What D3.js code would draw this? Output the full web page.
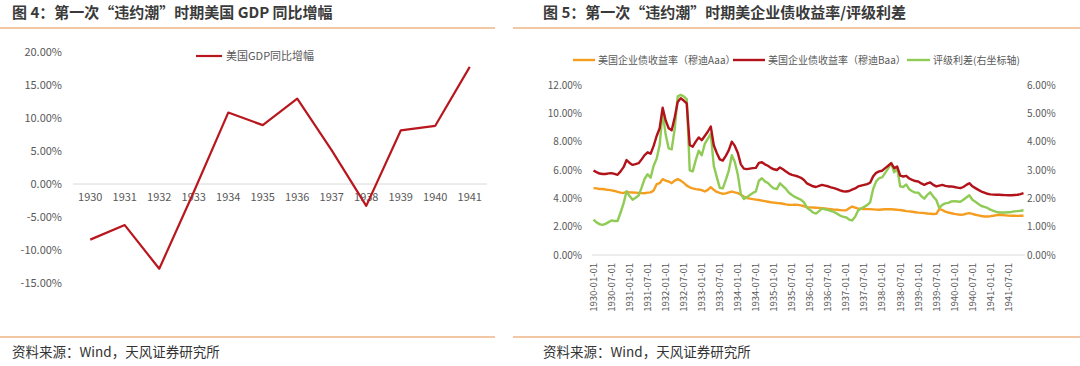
<!DOCTYPE html>
<meta charset="utf-8">
<head>
	<script src="https://cdn.jsdelivr.net/npm/d3@7"></script>
	<style>
		body {
			margin: 0;
			background: #fff;
			font-family: "Noto Sans CJK SC", "Noto Sans", sans-serif;
		}
		.title {
			font-size: 15px;
			font-weight: bold;
			fill: #3a3a3a;
		}
		.source {
			font-size: 13.5px;
			fill: #333;
		}
		.axis path,
		.axis line {
			display: none;
		}
		.axis text {
			fill: #595959;
			font-family: "Noto Sans CJK SC", sans-serif;
		}
		.legend text {
			fill: #595959;
		}
	</style>
</head>

<body>
	<div id="chart"></div>
</body>

<script type="text/javascript">

	// ---- figure 4 data
	var gdpYears = ["1930", "1931", "1932", "1933", "1934", "1935", "1936", "1937", "1938", "1939", "1940", "1941"];
	var gdpGrowth = [-8.4, -6.2, -12.8, -1.2, 10.8, 8.9, 12.9, 5.1, -3.3, 8.1, 8.8, 17.7];
	var gdpTicks = [-15, -10, -5, 0, 5, 10, 15, 20];
	var gdpName = "美国GDP同比增幅";

	// ---- figure 5 data, monthly 1930-01 .. 1941-12
	var aaa = [
		4.72, 4.70, 4.66, 4.66, 4.62, 4.60, 4.56, 4.52, 4.46, 4.40, 4.38, 4.45,
		4.42, 4.41, 4.40, 4.38, 4.37, 4.36, 4.40, 4.42, 4.55, 5.00, 5.07, 5.35,
		5.25, 5.19, 5.07, 5.25, 5.35, 5.25, 5.10, 4.90, 4.78, 4.70, 4.65, 4.62,
		4.58, 4.48, 4.60, 4.79, 4.60, 4.45, 4.38, 4.32, 4.35, 4.42, 4.48, 4.42,
		4.37, 4.25, 4.12, 4.02, 3.98, 3.94, 3.91, 3.88, 3.84, 3.80, 3.76, 3.72,
		3.70, 3.67, 3.65, 3.62, 3.57, 3.55, 3.54, 3.55, 3.54, 3.50, 3.44, 3.38,
		3.36, 3.35, 3.34, 3.33, 3.31, 3.29, 3.26, 3.23, 3.20, 3.19, 3.17, 3.15,
		3.15, 3.30, 3.42, 3.35, 3.27, 3.26, 3.25, 3.24, 3.24, 3.22, 3.20, 3.19,
		3.21, 3.23, 3.24, 3.23, 3.21, 3.19, 3.18, 3.14, 3.10, 3.08, 3.05, 3.02,
		2.99, 2.97, 2.96, 2.93, 2.91, 2.89, 2.90, 3.24, 3.18, 3.06, 3.00, 2.95,
		2.90, 2.87, 2.84, 2.85, 2.92, 2.96, 2.90, 2.84, 2.80, 2.75, 2.72, 2.72,
		2.74, 2.77, 2.82, 2.84, 2.82, 2.80, 2.78, 2.77, 2.77, 2.76, 2.77, 2.77
	];
	var baa = [
		5.97, 5.85, 5.75, 5.72, 5.72, 5.76, 5.78, 5.72, 5.66, 5.90, 6.20, 6.70,
		6.50, 6.36, 6.42, 6.48, 6.75, 7.05, 7.25, 7.15, 7.70, 8.40, 8.95, 10.40,
		9.50, 8.95, 8.80, 9.70, 10.80, 11.06, 10.90, 10.70, 7.77, 7.65, 8.00, 8.30,
		8.10, 8.40, 8.70, 9.07, 7.75, 7.20, 6.75, 6.67, 7.00, 7.40, 8.00, 7.70,
		7.20, 6.40, 6.10, 6.06, 6.10, 6.13, 6.15, 6.50, 6.55, 6.40, 6.30, 6.15,
		6.05, 6.00, 6.18, 6.05, 5.90, 5.75, 5.66, 5.60, 5.54, 5.45, 5.30, 5.05,
		4.95, 4.85, 4.80, 4.88, 4.95, 4.90, 4.85, 4.78, 4.72, 4.65, 4.56, 4.50,
		4.48, 4.52, 4.62, 4.70, 4.84, 4.90, 4.95, 5.00, 5.10, 5.55, 5.80, 5.90,
		5.95, 6.13, 6.30, 6.48, 6.13, 6.24, 5.60, 5.54, 5.59, 5.40, 5.30, 5.22,
		5.19, 5.05, 4.95, 5.05, 5.12, 4.95, 4.84, 4.90, 4.95, 4.88, 4.84, 4.84,
		4.80, 4.76, 4.72, 4.80, 4.95, 5.07, 4.85, 4.72, 4.60, 4.48, 4.40, 4.32,
		4.28, 4.26, 4.25, 4.25, 4.24, 4.23, 4.22, 4.22, 4.24, 4.25, 4.30, 4.37
	];
	var spread = [
		1.25, 1.15, 1.09, 1.06, 1.10, 1.16, 1.22, 1.20, 1.20, 1.50, 1.82, 2.25,
		2.08, 1.95, 2.02, 2.10, 2.38, 2.69, 2.85, 2.73, 3.15, 3.40, 3.88, 5.05,
		4.25, 3.76, 3.73, 4.45, 5.60, 5.65, 5.60, 5.50, 2.99, 2.95, 3.35, 3.68,
		3.52, 3.92, 4.10, 4.28, 3.15, 2.75, 2.37, 2.35, 2.65, 2.98, 3.52, 3.28,
		2.83, 2.15, 1.98, 2.04, 2.12, 2.19, 2.24, 2.62, 2.71, 2.60, 2.54, 2.43,
		2.35, 2.33, 2.53, 2.43, 2.33, 2.20, 2.12, 2.05, 2.00, 1.95, 1.86, 1.67,
		1.59, 1.50, 1.46, 1.55, 1.64, 1.61, 1.59, 1.55, 1.52, 1.46, 1.39, 1.35,
		1.33, 1.25, 1.22, 1.35, 1.57, 1.64, 1.70, 1.76, 1.86, 2.33, 2.60, 2.71,
		2.74, 2.90, 3.06, 3.25, 2.92, 3.05, 2.42, 2.40, 2.49, 2.32, 2.25, 2.20,
		2.20, 2.08, 1.99, 2.12, 2.21, 2.06, 1.94, 1.66, 1.77, 1.82, 1.84, 1.89,
		1.90, 1.89, 1.88, 1.95, 2.03, 2.11, 1.95, 1.88, 1.80, 1.73, 1.70, 1.66,
		1.60, 1.56, 1.52, 1.50, 1.50, 1.50, 1.51, 1.52, 1.54, 1.55, 1.56, 1.58
	];
	var yieldTicks = [0, 2, 4, 6, 8, 10, 12];
	var spreadTicks = [0, 1, 2, 3, 4, 5, 6];
	var seriesNames = ["美国企业债收益率（穆迪Aaa）", "美国企业债收益率（穆迪Baa）", "评级利差(右坐标轴)"];

	var titles = ["图 4：第一次“违约潮”时期美国 GDP 同比增幅", "图 5：第一次“违约潮”时期美企业债收益率/评级利差"];
	var sourceText = "资料来源：Wind，天风证券研究所";

	var fmt = function(d) { return d.toFixed(2) + "%"; };

	var svg = d3.select("#chart").append("svg")
		.attr("width", 1080)
		.attr("height", 366);

	// ---- frame: titles, rules, sources
	[{x: 12, x0: 0, x1: 495}, {x: 543, x0: 513, x1: 1080}].forEach(function(p, i) {
		svg.append("text")
			.attr("class", "title")
			.attr("x", p.x)
			.attr("y", 18)
			.text(titles[i]);
		svg.append("line")
			.attr("x1", p.x0).attr("x2", p.x1)
			.attr("y1", 28).attr("y2", 28)
			.style("stroke", "#f1c8a3")
			.style("stroke-width", 2);
		svg.append("line")
			.attr("x1", p.x0).attr("x2", p.x1)
			.attr("y1", 337).attr("y2", 337)
			.style("stroke", "#f1c8a3")
			.style("stroke-width", 2);
		svg.append("text")
			.attr("class", "source")
			.attr("x", p.x)
			.attr("y", 357)
			.text(sourceText);
	});

	// ---- figure 4
	var x4 = d3.scaleBand()
		.domain(gdpYears)
		.range([73, 487]);

	var y4 = d3.scaleLinear()
		.domain([-15, 20])
		.range([283.3, 51.7]);

	var yAxis4 = svg.append("g")
		.attr("class", "axis")
		.attr("transform", "translate(73,0)")
		.call(d3.axisLeft(y4).tickValues(gdpTicks).tickSize(0).tickPadding(11).tickFormat(fmt));
	yAxis4.selectAll("text").style("font-size", "11px");

	svg.append("line")
		.attr("x1", 73).attr("x2", 487)
		.attr("y1", y4(0)).attr("y2", y4(0))
		.style("stroke", "#d9d9d9");

	var xAxis4 = svg.append("g")
		.attr("class", "axis")
		.attr("transform", "translate(0," + y4(0) + ")")
		.call(d3.axisBottom(x4).tickSize(0).tickPadding(9));
	xAxis4.selectAll("text").style("font-size", "11px");

	var line4 = d3.line()
		.x(function(d, i) { return x4(gdpYears[i]) + x4.bandwidth() / 2; })
		.y(function(d) { return y4(d); });

	svg.append("path")
		.datum(gdpGrowth)
		.attr("d", line4)
		.style("fill", "none")
		.style("stroke", "#b8171e")
		.style("stroke-width", 2.2)
		.style("stroke-linejoin", "round");

	var legend4 = svg.append("g").attr("class", "legend");
	legend4.append("line")
		.attr("x1", 196).attr("x2", 222)
		.attr("y1", 56).attr("y2", 56)
		.style("stroke", "#b8171e")
		.style("stroke-width", 2.2);
	legend4.append("text")
		.attr("x", 226)
		.attr("y", 56)
		.attr("dy", ".35em")
		.style("font-size", "11px")
		.text(gdpName);

	// ---- figure 5
	var months = d3.timeMonth.range(new Date(1930, 0, 1), new Date(1942, 0, 1));
	var monthLabel = d3.timeFormat("%Y-%m-%d");
	var monthKeys = months.map(monthLabel);

	var x5 = d3.scaleBand()
		.domain(monthKeys)
		.range([592, 1025]);

	var y5 = d3.scaleLinear()
		.domain([0, 12])
		.range([255, 85]);

	var y5r = d3.scaleLinear()
		.domain([0, 6])
		.range([255, 85]);

	var yAxis5 = svg.append("g")
		.attr("class", "axis")
		.attr("transform", "translate(592,0)")
		.call(d3.axisLeft(y5).tickValues(yieldTicks).tickSize(0).tickPadding(10).tickFormat(fmt));
	yAxis5.selectAll("text").style("font-size", "10px");

	var yAxis5r = svg.append("g")
		.attr("class", "axis")
		.attr("transform", "translate(1025,0)")
		.call(d3.axisRight(y5r).tickValues(spreadTicks).tickSize(0).tickPadding(2).tickFormat(fmt));
	yAxis5r.selectAll("text").style("font-size", "10px");

	svg.append("line")
		.attr("x1", 592).attr("x2", 1025)
		.attr("y1", y5(0)).attr("y2", y5(0))
		.style("stroke", "#d9d9d9");

	var xAxis5 = svg.append("g")
		.attr("class", "axis")
		.attr("transform", "translate(0," + y5(0) + ")")
		.call(d3.axisBottom(x5)
			.tickValues(monthKeys.filter(function(d, i) { return i % 6 === 0; }))
			.tickSize(0));
	xAxis5.selectAll("text")
		.style("font-size", "9.5px")
		.style("text-anchor", "end")
		.attr("y", 0)
		.attr("x", -8)
		.attr("dy", ".35em")
		.attr("transform", "rotate(-90)");

	var cx = function(d, i) { return x5(monthKeys[i]) + x5.bandwidth() / 2; };

	var series5 = [
		{values: aaa, scale: y5, color: "#f59d1f"},
		{values: baa, scale: y5, color: "#b2121a"},
		{values: spread, scale: y5r, color: "#8fcb55"}
	];

	// draw Aaa, then spread, then Baa on top like the source
	[0, 2, 1].forEach(function(k) {
		var s = series5[k];
		svg.append("path")
			.datum(s.values)
			.attr("d", d3.line().x(cx).y(function(d) { return s.scale(d); }))
			.style("fill", "none")
			.style("stroke", s.color)
			.style("stroke-width", 2.4)
			.style("stroke-linejoin", "round");
	});

	var legendPos = [{x: 573, w: 22}, {x: 733, w: 32}, {x: 907, w: 23}];
	var legend5 = svg.append("g").attr("class", "legend");
	legendPos.forEach(function(p, i) {
		legend5.append("line")
			.attr("x1", p.x).attr("x2", p.x + p.w)
			.attr("y1", 60).attr("y2", 60)
			.style("stroke", series5[i].color)
			.style("stroke-width", 2.4);
		legend5.append("text")
			.attr("x", p.x + p.w + 3)
			.attr("y", 60)
			.attr("dy", ".35em")
			.style("font-size", "10px")
			.text(seriesNames[i]);
	});
</script>
